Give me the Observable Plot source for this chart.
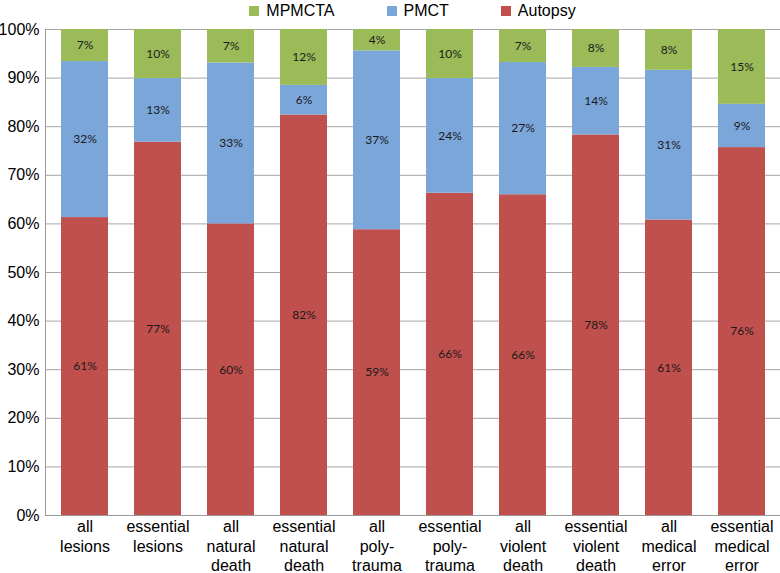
<!DOCTYPE html>
<html>
<head>
<meta charset="utf-8">
<script src="https://cdn.jsdelivr.net/npm/d3@7"></script>
<script src="https://cdn.jsdelivr.net/npm/@observablehq/plot@0.6"></script>
<style>
  body { margin: 0; background: #fff; font-family: "Liberation Sans", Arial, sans-serif; }
  #legend { height: 22px; display: flex; justify-content: center; align-items: center; gap: 52px; padding-left: 45px; font-size: 16px; color: #000; box-sizing: border-box; width: 780px; }
  .item { display: flex; align-items: center; gap: 7px; }
  .sw { width: 10px; height: 10px; display: inline-block; }
</style>
</head>
<body>
<div id="legend"></div>
<div id="chart"></div>
<script>
const categories = ["all\nlesions","essential\nlesions","all\nnatural\ndeath","essential\nnatural\ndeath","all\npoly-\ntrauma","essential\npoly-\ntrauma","all\nviolent\ndeath","essential\nviolent\ndeath","all\nmedical\nerror","essential\nmedical\nerror"];
const methods = ["Autopsy", "PMCT", "MPMCTA"];
const autopsy = [61.3, 76.8, 60.0, 82.4, 58.8, 66.3, 66.0, 78.3, 60.8, 75.7];
const pmct    = [32.1, 13.1, 33.1, 6.1, 36.8, 23.6, 27.2, 13.9, 30.8, 8.9];
const mpmcta  = [6.6, 10.1, 6.9, 11.5, 4.4, 10.1, 6.8, 7.8, 8.4, 15.4];
const yTicks = [0, 10, 20, 30, 40, 50, 60, 70, 80, 90, 100];
const colors = ["#C0504D", "#7BA6DA", "#9BBB59"];
const legendOrder = ["MPMCTA", "PMCT", "Autopsy"];

const series = [autopsy, pmct, mpmcta];
const data = [];
categories.forEach((c, i) => {
  methods.forEach((m, j) => data.push({cat: c, method: m, value: series[j][i]}));
});

const legend = document.getElementById("legend");
legendOrder.forEach(m => {
  const it = document.createElement("div");
  it.className = "item";
  it.innerHTML = `<span class="sw" style="background:${colors[methods.indexOf(m)]}"></span><span>${m}</span>`;
  legend.appendChild(it);
});

const leftLine = (index, scales, values, dimensions) => {
  const ns = "http://www.w3.org/2000/svg";
  const l = document.createElementNS(ns, "line");
  const x = dimensions.marginLeft + 0.5;
  l.setAttribute("x1", x); l.setAttribute("x2", x);
  l.setAttribute("y1", dimensions.marginTop);
  l.setAttribute("y2", dimensions.height - dimensions.marginBottom);
  l.setAttribute("stroke", "#999");
  return l;
};

const chart = Plot.plot({
  width: 780,
  height: 551,
  marginTop: 7,
  marginBottom: 58,
  marginLeft: 45,
  marginRight: 0,
  style: {fontFamily: "'Liberation Sans', Arial, sans-serif", fontSize: "16px", color: "#000", background: "#fff"},
  x: {domain: categories, paddingInner: 0.36, paddingOuter: 0.18, label: null},
  y: {domain: [0, 100], label: null},
  color: {domain: methods, range: colors},
  marks: [
    Plot.gridY({ticks: yTicks, stroke: "#a6a6a6", strokeOpacity: 1}),
    Plot.barY(data, Plot.stackY({x: "cat", y: "value", fill: "method", order: methods})),
    Plot.text(data, Plot.stackY({x: "cat", y: "value", z: "method", order: methods,
      text: d => Math.round(d.value) + "%", fill: "#1a1a1a",
      fontFamily: "Lato, 'Open Sans', sans-serif", fontSize: 12})),
    Plot.ruleY([0], {stroke: "#999"}),
    leftLine,
    Plot.axisY({ticks: yTicks, tickFormat: d => d + "%", tickSize: 0, tickPadding: 6, fontSize: 16, label: null}),
    Plot.axisX({tickSize: 0, tickPadding: 3, fontSize: 16, lineHeight: 1.22, label: null})
  ]
});
document.getElementById("chart").appendChild(chart);
</script>
</body>
</html>
